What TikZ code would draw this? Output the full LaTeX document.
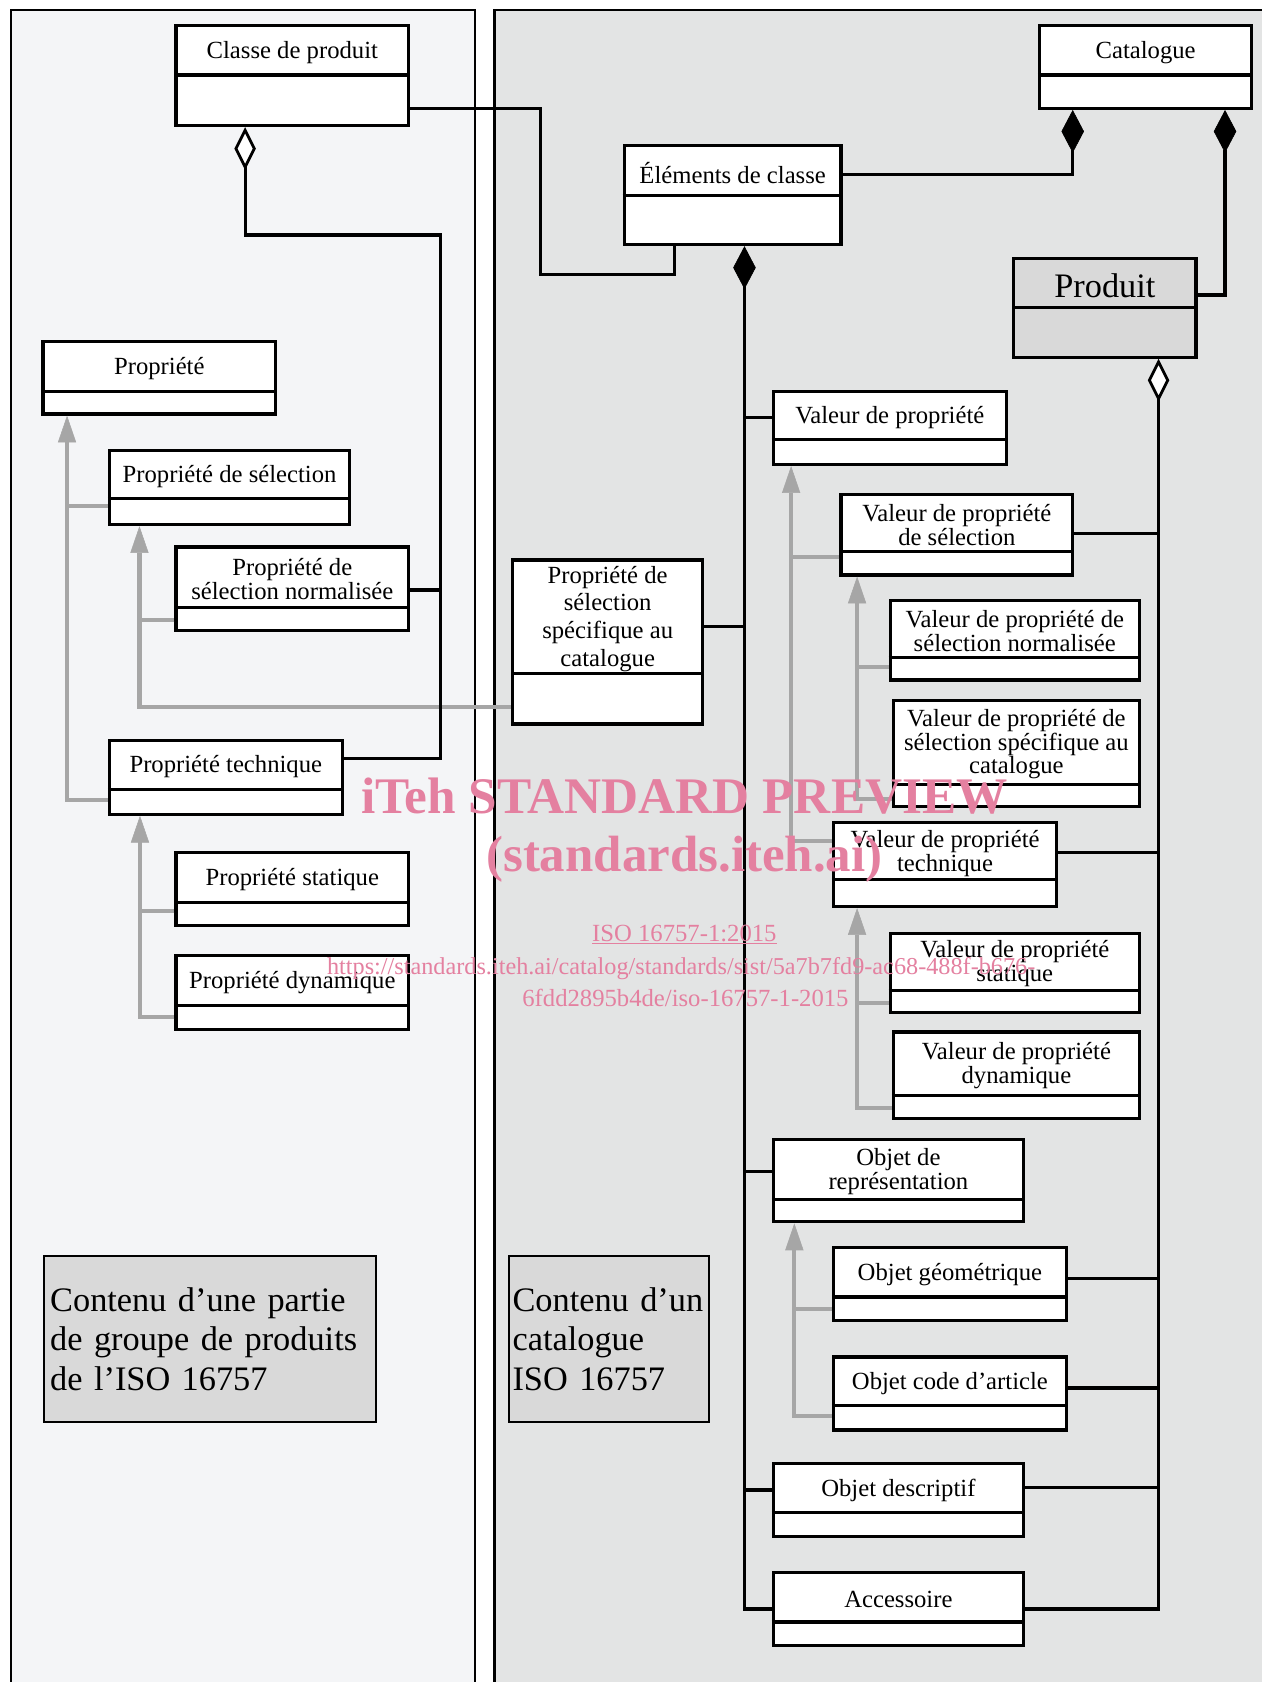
\documentclass[tikz,border=0pt]{standalone}
\usepackage{fontspec}
\setmainfont{Liberation Serif}
\usepackage{tikz}
\usetikzlibrary{arrows.meta,positioning,calc,fit}
\definecolor{leftpanel}{RGB}{244,245,247}
\definecolor{rightpanel}{RGB}{227,228,228}
\definecolor{notegray}{RGB}{217,217,217}
\definecolor{inhgray}{RGB}{166,166,166}
\definecolor{wmpink}{RGB}{228,128,160}

% boite de classe UML : [fond]{nom}{x1}{y1}{x2}{y2}{y separation}{titre}
\newcommand{\umlclass}[8][white]{%
  \node[classbox, fill=#1, fit={(#3,#4) (#5,#6)}] (#2) {};
  \draw[classrule] (#2.west |- 0,#7) -- (#2.east |- 0,#7);
  \pgfmathsetmacro{\titley}{(#4+#7)/2}
  \node[classname] (#2-t) at (#2.north |- 0,\titley) {#8};
}

\begin{document}
\begin{tikzpicture}[x=1pt, y=-1pt,
  compo/.tip={Diamond[width=21pt, length=40pt, line width=0.6pt]},
  aggr/.tip={Diamond[fill=white, width=20pt, length=40pt, line width=2.6pt]}]
  \tikzstyle{classbox} = [rectangle, draw, line width=3pt, inner sep=0pt]
  \tikzstyle{classrule} = [line width=3pt]
  \tikzstyle{classname} = [font=\fontsize{23}{22}\selectfont, align=center, inner sep=0pt, yshift=-2pt]
  \tikzstyle{notebox} = [rectangle, draw, line width=1.6pt, fill=notegray, align=left, inner ysep=0pt, font=\fontsize{32}{37}\selectfont]
  \tikzstyle{conn} = [draw=black, line width=3pt]
  \tikzstyle{inh} = [draw=inhgray, line width=4pt, -{Triangle[width=17pt, length=25pt, line width=0.5pt]}]
  \tikzstyle{inhline} = [draw=inhgray, line width=4pt]
  \tikzstyle{wm} = [text=wmpink, inner sep=0pt, anchor=base]

  \useasboundingbox (0,0) rectangle (1176,1568);
  \fill[white] (0,0) rectangle (1176,1568);

  % les deux zones
  \draw[line width=2pt, fill=leftpanel] (10,9) rectangle (443,1580);
  \draw[line width=2pt, fill=rightpanel] (461,9) rectangle (1190,1580);

  % partie de groupe de produits
  \umlclass{cp}{164}{24}{381}{117}{70}{Classe de produit}
  \umlclass{p}{40}{318}{257}{386}{365}{Propriété}
  \umlclass{ps}{102}{420}{326}{489}{465}{Propriété de sélection}
  \umlclass{psn}{164}{510}{381}{588}{566}{Propriété de\\sélection normalisée}
  \umlclass{pt}{102}{690}{319}{759}{736}{Propriété technique}
  \umlclass{pst}{164}{795}{381}{863}{841}{Propriété statique}
  \umlclass{pd}{164}{891}{381}{960}{937}{Propriété dynamique}

  % catalogue
  \umlclass{cat}{969}{24}{1167}{101}{70}{Catalogue}
  \umlclass{ec}{582}{136}{784}{228}{182}{Éléments de classe}
  \umlclass[notegray]{prod}{945}{241}{1115}{333}{287}{\fontsize{32}{34}\selectfont Produit}
  \umlclass{pssc}{478}{522}{655}{675}{628}{Propriété de\\[4pt]sélection\\[4pt]spécifique au\\[4pt]catalogue}
  \umlclass{vp}{721}{365}{938}{433}{410}{Valeur de propriété}
  \umlclass{vps}{784}{461}{1000}{536}{514}{Valeur de propriété\\de sélection}
  \umlclass{vpsn}{830}{560}{1062}{634}{613}{Valeur de propriété de\\sélection normalisée}
  \umlclass{vpssc}{833}{653}{1062}{752}{731}{Valeur de propriété de\\sélection spécifique au\\catalogue}
  \umlclass{vpt}{777}{767}{985}{845}{820}{Valeur de propriété\\technique}
  \umlclass{vpst}{830}{870}{1062}{944}{923}{Valeur de propriété\\statique}
  \umlclass{vpd}{833}{962}{1062}{1043}{1021}{Valeur de propriété\\dynamique}
  \umlclass{orep}{721}{1062}{954}{1139}{1118}{Objet de\\représentation}
  \umlclass{ogeo}{777}{1163}{994}{1231}{1209}{Objet géométrique}
  \umlclass{ocode}{777}{1265}{994}{1333}{1310}{Objet code d’article}
  \umlclass{odesc}{721}{1364}{954}{1432}{1410}{Objet descriptif}
  \umlclass{acc}{721}{1466}{954}{1534}{1512}{Accessoire}

  % notes
  \node[notebox, anchor=north west, minimum width=310pt, minimum height=155pt, text width=298pt, inner xsep=6pt] (note_l) at (40,1170) {Contenu d’une partie\\de groupe de produits\\de l’ISO 16757};
  \node[notebox, anchor=north west, minimum width=186pt, minimum height=155pt, text width=180pt, inner xsep=3pt] (note_r) at (474,1170) {Contenu d’un\\catalogue\\ISO 16757};

  % heritage
  \draw[inh] (pt.west |- 0,746) -| ([xshift=-86pt]p.south);
  \draw[inhline] (ps.west |- 0,472) -- ++(-40,0);
  \draw[inh] (pssc.west |- 0,659) -| ([xshift=-84pt]ps.south);
  \draw[inhline] (psn.west |- 0,578) -- ++(-34,0);
  \draw[inh] (pd.west |- 0,948) -| ([xshift=-80pt]pt.south);
  \draw[inhline] (pst.west |- 0,849) -- ++(-34,0);
  \draw[inh] (vpt.west |- 0,784) -| ([xshift=-92pt]vp.south);
  \draw[inhline] (vps.west |- 0,519) -- ++(-46,0);
  \draw[inh] (vpssc.west |- 0,745) -| ([xshift=-93pt]vps.south);
  \draw[inhline] (vpsn.west |- 0,622) -- ++(-31,0);
  \draw[inh] (vpd.west |- 0,1033) -| ([xshift=-82pt]vpt.south);
  \draw[inhline] (vpst.west |- 0,935) -- ++(-31,0);
  \draw[inh] (ocode.west |- 0,1320) -| ([xshift=-97pt]orep.south);
  \draw[inhline] (ogeo.west |- 0,1220) -- ++(-36,0);

  % associations
  \draw[conn] ([yshift=-31pt]cp.east) -| (504,256) -| ([xshift=-54pt]ec.south);
  \draw[conn, aggr-] ([xshift=-44pt]cp.south) |- (411,219) |- (pt.east |- 0,707);
  \draw[conn] (psn.east |- 0,550) -- ++(30,0);
  \draw[conn, compo-] ([xshift=-68pt]cat.south) |- ([yshift=19pt]ec.east);
  \draw[conn, compo-] ([xshift=74pt]cat.south) |- ([yshift=12pt]prod.east);

  % composition des elements de classe
  \draw[conn, compo-] ([xshift=11pt]ec.south) |- (acc.west);
  \draw[conn] (vp.west |- vp-t) -- ++(-27,0);
  \draw[conn] (pssc.east |- 0,584) -- ++(39,0);
  \draw[conn] (orep.west |- orep-t) -- ++(-27,0);
  \draw[conn] (odesc.west |- odesc-t) -- ++(-27,0);

  % agregation du produit
  \draw[conn, aggr-] ([xshift=50pt]prod.south) |- (acc.east);
  \draw[conn] (vps.east |- 0,497) -- ++(80,0);
  \draw[conn] (vpt.east |- 0,795) -- ++(95,0);
  \draw[conn] (ogeo.east |- 0,1192) -- ++(86,0);
  \draw[conn] (ocode.east |- 0,1294) -- ++(86,0);
  \draw[conn] (odesc.east |- 0,1387) -- ++(126,0);

  % filigrane
  \node[wm, font=\bfseries\fontsize{47.8}{50}\selectfont] (wm1) at (638,758) {iTeh STANDARD PREVIEW};
  \node[wm, font=\bfseries\fontsize{47.5}{50}\selectfont] (wm2) at (638,812) {(standards.iteh.ai)};
  \node[wm, font=\fontsize{23}{25}\selectfont] (wm3) at (638,878) {\underline{ISO 16757-1:2015}};
  \node[wm, font=\fontsize{22.6}{24}\selectfont] (wm4) at (635,908) {https://standards.iteh.ai/catalog/standards/sist/5a7b7fd9-ac68-488f-b676-};
  \node[wm, font=\fontsize{23}{25}\selectfont] (wm5) at (639,938) {6fdd2895b4de/iso-16757-1-2015};
\end{tikzpicture}
\end{document}
